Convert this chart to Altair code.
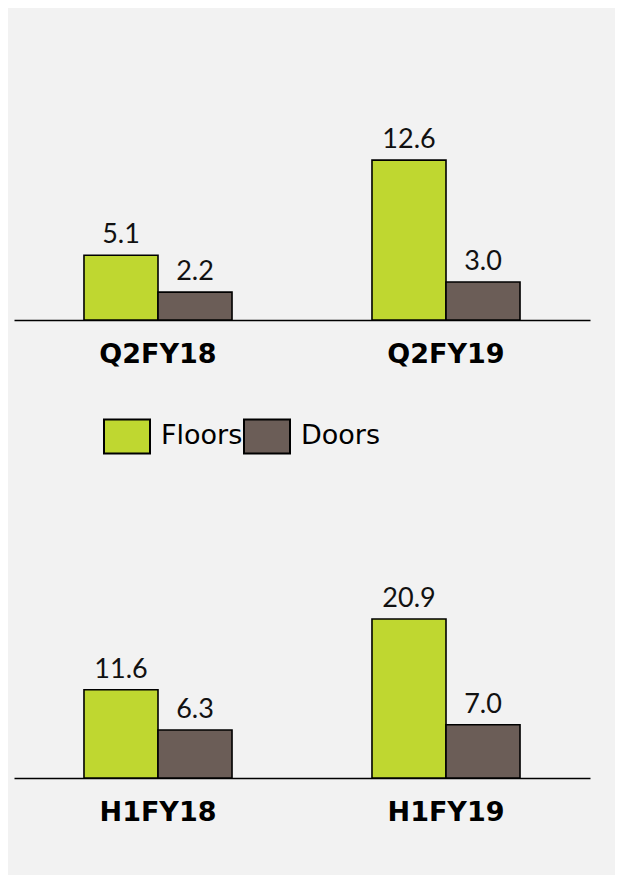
import altair as alt
import pandas as pd

series = ["Floors", "Doors"]
colors = ["#bfd730", "#6b5d57"]

top_periods = ["Q2FY18", "Q2FY19"]
top_floors = [5.1, 12.6]
top_doors = [2.2, 3.0]

bottom_periods = ["H1FY18", "H1FY19"]
bottom_floors = [11.6, 20.9]
bottom_doors = [6.3, 7.0]


def make_df(periods, floors, doors):
    rows = []
    for p, f, d in zip(periods, floors, doors):
        rows.append({"period": p, "series": "Floors", "value": f})
        rows.append({"period": p, "series": "Doors", "value": d})
    return pd.DataFrame(rows)


def panel(df, periods, dmax, show_legend):
    base = alt.Chart(df).encode(
        x=alt.X(
            "period:N",
            sort=periods,
            scale=alt.Scale(paddingInner=0.486, paddingOuter=0.243),
            axis=alt.Axis(
                title=None,
                labelAngle=0,
                ticks=False,
                tickSize=0,
                domainColor="black",
                domainWidth=1.6,
                labelFont="DejaVu Sans",
                labelFontWeight="bold",
                labelFontSize=27,
                labelColor="black",
                labelBaseline="alphabetic",
                labelPadding=42,
                grid=False,
            ),
        ),
        xOffset=alt.XOffset(
            "series:N", sort=series, scale=alt.Scale(paddingInner=0, paddingOuter=0)
        ),
        y=alt.Y("value:Q", scale=alt.Scale(domain=[0, dmax], nice=False), axis=None),
    )
    color_kwargs = dict(sort=series, scale=alt.Scale(domain=series, range=colors))
    if show_legend:
        legend = alt.Legend(
            title=None,
            orient="none",
            legendX=89,
            legendY=399,
            direction="horizontal",
            symbolType="M-1,-0.74H1V0.74H-1Z",
            symbolSize=2116,
            symbolStrokeColor="black",
            symbolStrokeWidth=2,
            symbolOpacity=1,
            labelFont="DejaVu Sans",
            labelFontSize=27,
            labelColor="black",
            labelOffset=10,
            columnPadding=-5,
            padding=0,
        )
        color = alt.Color("series:N", legend=legend, **color_kwargs)
    else:
        color = alt.Color("series:N", legend=None, **color_kwargs)
    bars = base.mark_bar(stroke="black", strokeWidth=1.6, opacity=1).encode(color=color)
    text = base.mark_text(
        baseline="alphabetic", dy=-12, font="Lato", fontSize=27, color="#111111"
    ).encode(text=alt.Text("value:Q", format=".1f"))
    return (bars + text).properties(width=576, height=307)


top = panel(make_df(top_periods, top_floors, top_doors), top_periods, 24.2, True)
bottom = panel(
    make_df(bottom_periods, bottom_floors, bottom_doors), bottom_periods, 40.35, False
)

chart = (
    alt.vconcat(top, bottom, spacing=104)
    .properties(
        background="#f2f2f2",
        padding={"left": 6, "top": 5, "right": 25, "bottom": 50},
    )
    .configure_view(stroke=None)
)

chart.save("out.html", embed_options={"renderer": "svg", "actions": False})
